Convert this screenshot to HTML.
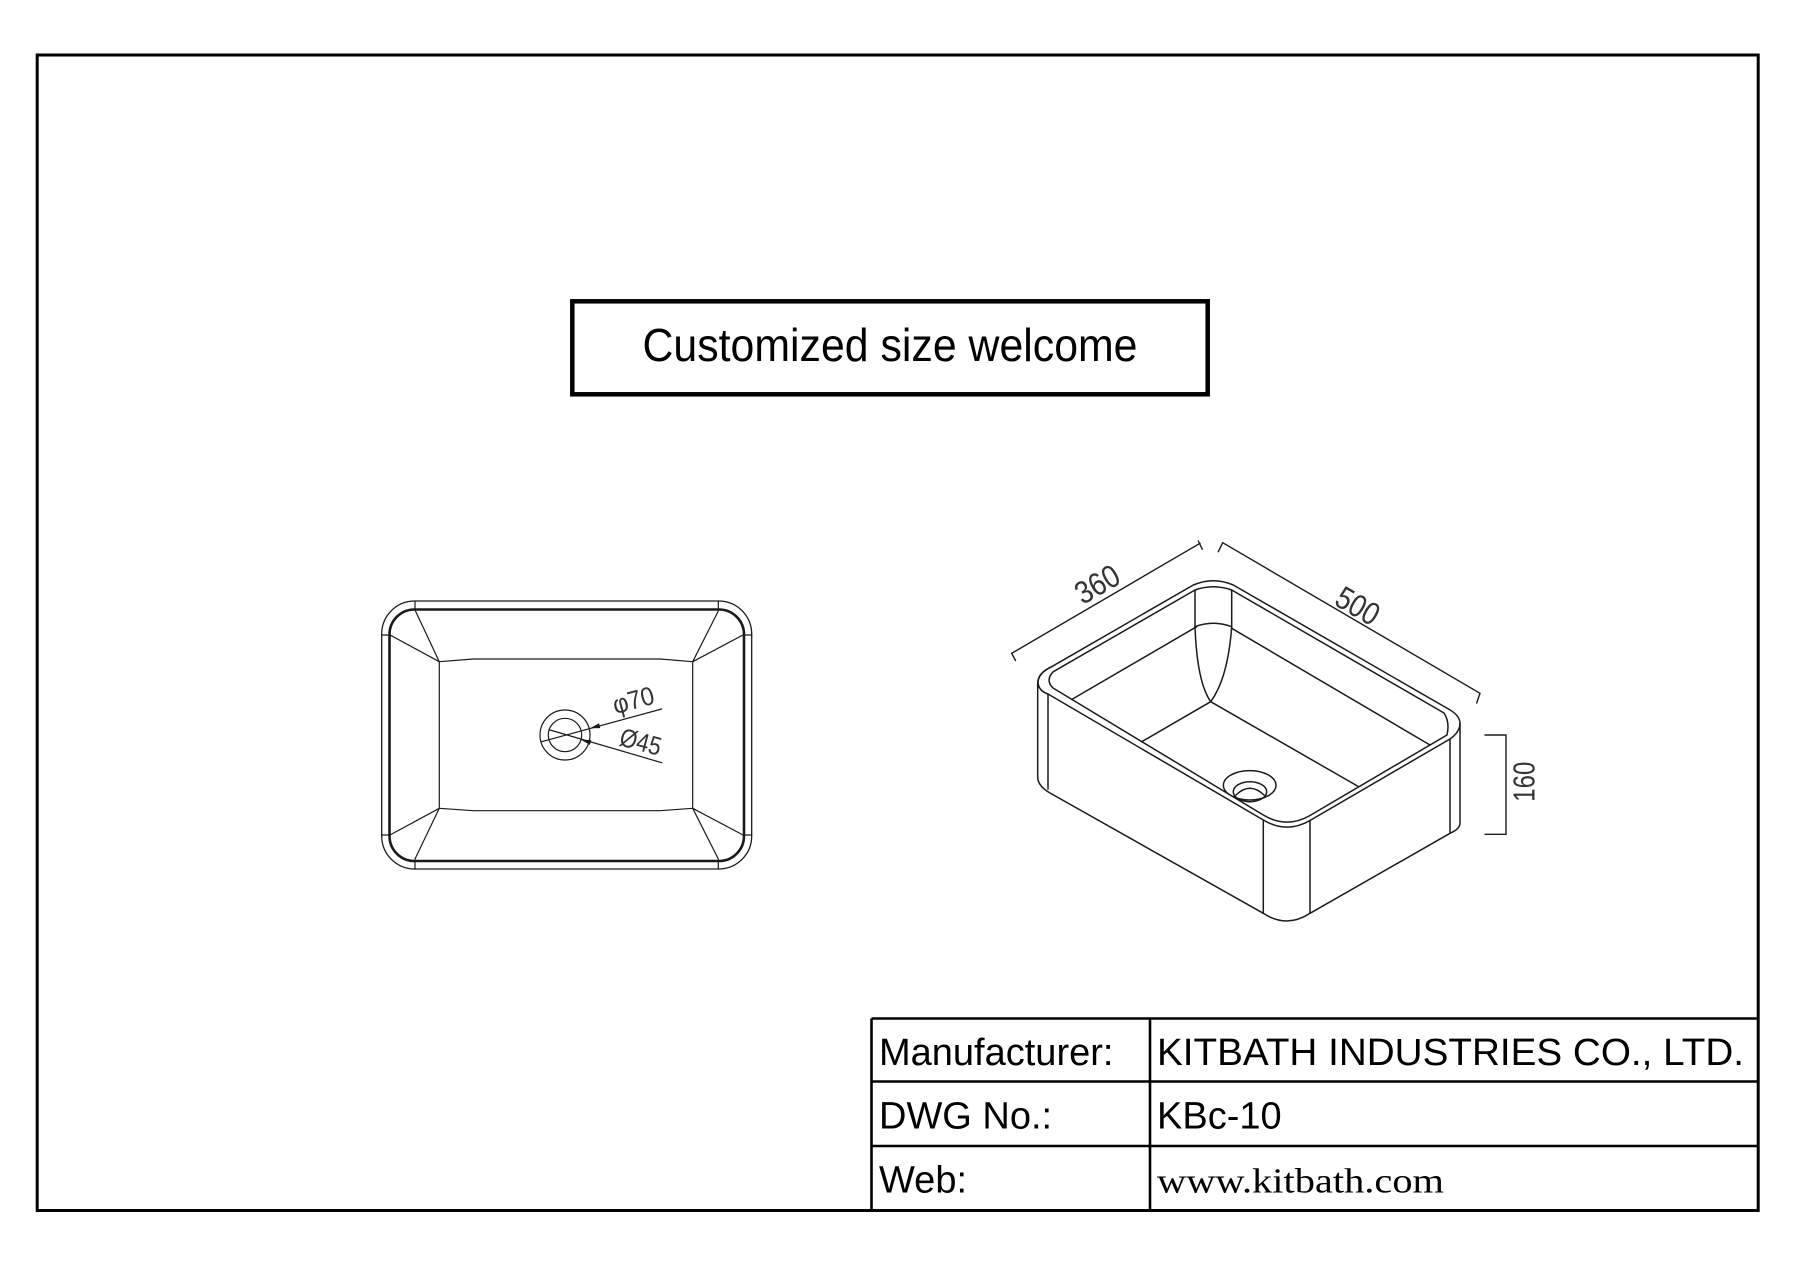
<!DOCTYPE html>
<html>
<head>
<meta charset="utf-8">
<style>
  html,body{margin:0;padding:0;background:#fff;}
  svg{display:block;}
</style>
</head>
<body>
<svg width="1796" height="1270" viewBox="0 0 1796 1270" xmlns="http://www.w3.org/2000/svg">
  <rect x="0" y="0" width="1796" height="1270" fill="#fff"/>

  <!-- outer frame -->
  <rect x="37.2" y="55" width="1721" height="1155.5" fill="none" stroke="#000" stroke-width="3"/>

  <!-- title box -->
  <rect x="572.3" y="301.3" width="635.4" height="93" fill="none" stroke="#000" stroke-width="4.5"/>
  <text x="890" y="361" text-anchor="middle" font-family="'Liberation Sans', sans-serif" font-size="46" textLength="495" lengthAdjust="spacingAndGlyphs" fill="#000">Customized size welcome</text>

  <!-- ============ LEFT SINK (top view) ============ -->
  <g fill="none" stroke="#1a1a1a" stroke-linecap="round" stroke-linejoin="round">
    <rect x="381.7" y="601" width="370" height="268" rx="33" ry="33" stroke-width="1.3"/>
    <rect x="389.5" y="609.5" width="354.5" height="251.5" rx="25" ry="25" stroke-width="2.6"/>
    <g stroke-width="1.2">
      <path d="M415,601 V610 M718.3,601 V610 M415,860 V869 M718.3,860 V869"/>
      <path d="M381.7,635 H390 M743.5,635 H751.7 M381.7,835 H390 M743.5,835 H751.7"/>
      <!-- corner diagonals -->
      <path d="M415,610 L439.3,661.7 L390,635"/>
      <path d="M718.3,611 L692.7,661.7 L743,635"/>
      <path d="M390,835 L439.3,808.3 L415,859"/>
      <path d="M743,835 L692.7,808.3 L718.3,859"/>
      <!-- inner basin floor -->
      <path d="M439.3,661.7 L473.3,659 L660,659 L692.7,661.7 L692.7,808.3 L660,810.7 L473.3,810.7 L439.3,808.3 Z"/>
      <!-- drain -->
      <circle cx="565" cy="735" r="25"/>
      <circle cx="565" cy="735" r="16.7"/>
      <!-- leaders -->
      <path d="M541.7,741.7 L661.7,709"/>
      <path d="M550,730 L661.7,762.7"/>
    </g>
  </g>
  <path d="M590,728.3 L600.3,728.1 L599,723.3 Z" fill="#1a1a1a"/>
  <path d="M581,739.7 L589.9,744.9 L591.3,740.1 Z" fill="#1a1a1a"/>
  <text transform="translate(633.3,700) rotate(-15)" y="9" text-anchor="middle" font-family="'Liberation Sans', sans-serif" font-size="26" textLength="42" lengthAdjust="spacingAndGlyphs" fill="#333">φ70</text>
  <text transform="translate(640.7,741.7) rotate(15)" y="9" text-anchor="middle" font-family="'Liberation Sans', sans-serif" font-size="26" textLength="42" lengthAdjust="spacingAndGlyphs" fill="#333">Ø45</text>

  <!-- ============ RIGHT SINK (isometric) ============ -->
  <defs>
    <clipPath id="drainclip">
      <path d="M1000,500 L1500,500 L1500,700 L1447,735 L1310,815.5 L1263.3,815 L1053,688 L1000,688 Z"/>
    </clipPath>
  </defs>
  <g fill="none" stroke="#1a1a1a" stroke-width="1.5" stroke-linecap="round" stroke-linejoin="round">
    <!-- silhouette -->
    <path d="M1051.7,666.7 L1193.3,585 Q1213.3,576.4 1233.3,585 L1446.7,708 Q1460,715 1460,723.3 L1460,823.3 Q1460,829 1450,833.3 L1310,913.3 Q1286.7,928.7 1263.3,913.3 L1050,793 Q1037.7,786 1037.7,777 L1037.7,683.3 Q1037.7,673 1051.7,666.7 Z"/>
    <!-- rim outer top edge (front) -->
    <path d="M1051.7,666.7 Q1038,673 1038,683 Q1039,691 1048,694 L1263.3,820 Q1286.7,834 1310,820.5 L1450,739 Q1460,732 1460,723.3"/>
    <!-- rim inner edge -->
    <path d="M1053.3,671.7 L1195,590 Q1213.3,583.5 1231.7,590 L1444,713 Q1450,722 1447,735 L1310,815.5 Q1286.7,829 1263.3,815 L1053,688 Q1045,680 1053.3,671.7 Z"/>
    <!-- vertical edges -->
    <path d="M1048,694 V789"/>
    <path d="M1450,739 V833.3"/>
    <path d="M1263.3,820 V913.3"/>
    <path d="M1310,820.5 V913.3"/>
    <!-- back inner corner -->
    <path d="M1195,590 V626.7 M1231.7,590 V626.7"/>
    <path d="M1195,626.7 Q1213.3,619.9 1231.7,626.7"/>
    <path d="M1195,626.7 Q1197,682 1210.7,701.7"/>
    <path d="M1231.7,626.7 Q1228,678 1210.7,701.7"/>
    <!-- inner wall lines -->
    <path d="M1196.7,626.7 L1071.7,699.5"/>
    <path d="M1231.7,628.3 L1430,745"/>
    <!-- floor -->
    <path d="M1141.7,741.7 L1210.7,701.7 L1358.3,786.5"/>
    <!-- drain -->
    <g clip-path="url(#drainclip)">
      <ellipse cx="1249.7" cy="785.3" rx="26.3" ry="14.7"/>
      <ellipse cx="1250" cy="791.7" rx="16.7" ry="10"/>
      <path d="M1236,795 Q1250,781.5 1264,795"/>
    </g>
  </g>

  <!-- dimension lines -->
  <g fill="none" stroke="#1a1a1a" stroke-width="1.4" stroke-linecap="round">
    <path d="M1011.7,653.3 L1200,543.3"/>
    <path d="M1011.7,653.3 L1015.5,660.5"/>
    <path d="M1198.3,541 L1202.3,549.3"/>
    <path d="M1222.7,542.7 L1480,693.3"/>
    <path d="M1222.7,542.7 L1218.3,551.7"/>
    <path d="M1480,693.3 L1476.7,703"/>
    <path d="M1485,735 H1506 V834.3 H1485"/>
  </g>
  <text transform="translate(1096.7,583.3) rotate(-30)" y="12" text-anchor="middle" font-family="'Liberation Sans', sans-serif" font-size="32" textLength="46" lengthAdjust="spacingAndGlyphs" fill="#333">360</text>
  <text transform="translate(1358.3,605) rotate(30)" y="12" text-anchor="middle" font-family="'Liberation Sans', sans-serif" font-size="32" textLength="45" lengthAdjust="spacingAndGlyphs" fill="#333">500</text>
  <text transform="translate(1523.3,781.7) rotate(-90)" y="11" text-anchor="middle" font-family="'Liberation Sans', sans-serif" font-size="31" textLength="40" lengthAdjust="spacingAndGlyphs" fill="#333">160</text>

  <!-- ============ TITLE TABLE ============ -->
  <g stroke="#000" stroke-width="2.6" fill="none">
    <path d="M871.5,1018.5 H1758.2"/>
    <path d="M871.5,1081.5 H1758.2"/>
    <path d="M871.5,1146 H1758.2"/>
    <path d="M871.5,1018.5 V1210.5"/>
    <path d="M1150,1018.5 V1210.5"/>
  </g>
  <g font-family="'Liberation Sans', Arial, sans-serif" font-size="38" fill="#000">
    <text x="879" y="1065">Manufacturer:</text>
    <text x="879" y="1128.5">DWG No.:</text>
    <text x="879" y="1192.5">Web:</text>
    <text x="1157" y="1065" textLength="587" lengthAdjust="spacingAndGlyphs">KITBATH INDUSTRIES CO., LTD.</text>
    <text x="1157" y="1128.5">KBc-10</text>
  </g>
  <text x="1157" y="1192.5" font-family="'Liberation Serif', serif" font-size="35" textLength="287" lengthAdjust="spacingAndGlyphs" fill="#000">www.kitbath.com</text>
</svg>
</body>
</html>
